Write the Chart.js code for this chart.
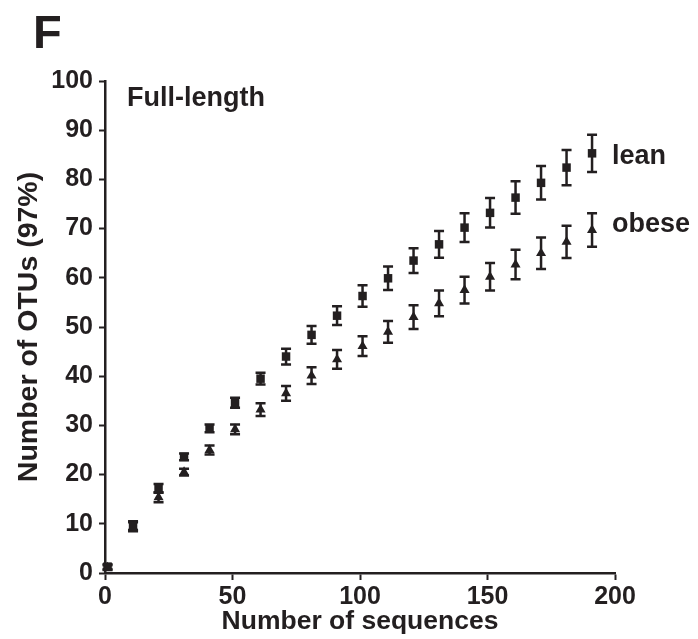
<!DOCTYPE html>
<html>
<head>
<meta charset="utf-8">
<script src="https://cdn.jsdelivr.net/npm/chart.js@4.4.0/dist/chart.umd.min.js"></script>
<style>
  body { margin: 0; background: #fff; }
  canvas { display: block; }
</style>
</head>
<body>
<canvas id="myChart" width="698" height="639"></canvas>
<script>
let ink = '#231f20'
let fontFamily = '"Liberation Sans", Arial, sans-serif'

// number of sequences sampled
const sequences = [1, 11, 21, 31, 41, 51, 61, 71, 81, 91, 101, 111, 121, 131, 141, 151, 161, 171, 181, 191]

// OTUs (97%) - lean
const lean = [1.3, 9.6, 17.2, 23.6, 29.4, 34.6, 39.5, 44.0, 48.4, 52.3, 56.3, 59.9, 63.5, 66.8, 70.2, 73.2, 76.3, 79.3, 82.4, 85.3]
const leanErr = [0.5, 0.9, 0.9, 0.7, 0.8, 1.0, 1.2, 1.6, 1.8, 1.9, 2.2, 2.4, 2.5, 2.7, 2.9, 3.0, 3.3, 3.4, 3.6, 3.8]

// OTUs (97%) - obese
const obese = [1.1, 9.4, 15.4, 20.5, 25.0, 29.2, 33.2, 36.5, 40.1, 43.4, 46.1, 49.0, 52.0, 54.8, 57.5, 60.2, 62.7, 65.0, 67.3, 69.7]
const obeseErr = [0.5, 0.9, 1.0, 0.7, 0.9, 1.0, 1.3, 1.5, 1.7, 1.9, 2.0, 2.2, 2.4, 2.6, 2.7, 2.8, 3.0, 3.2, 3.3, 3.4]

const xTicks = [0, 50, 100, 150, 200]
const yTicks = [0, 10, 20, 30, 40, 50, 60, 70, 80, 90, 100]

const errors = [leanErr, obeseErr]

// vertical error bars with caps, drawn under the markers
const errorBars = {
    id: 'errorBars',
    beforeDatasetsDraw(chart) {
        const ctx = chart.ctx
        const xs = chart.scales.x
        const ys = chart.scales.y
        ctx.save()
        ctx.strokeStyle = ink
        ctx.lineWidth = 2.5
        chart.data.datasets.forEach((ds, d) => {
            ds.data.forEach((p, i) => {
                const e = errors[d][i]
                const px = xs.getPixelForValue(p.x)
                const top = ys.getPixelForValue(p.y + e)
                const bot = ys.getPixelForValue(p.y - e)
                ctx.beginPath()
                ctx.moveTo(px, top)
                ctx.lineTo(px, bot)
                ctx.moveTo(px - 5, top)
                ctx.lineTo(px + 5, top)
                ctx.moveTo(px - 5, bot)
                ctx.lineTo(px + 5, bot)
                ctx.stroke()
            })
        })
        ctx.restore()
    }
}

// panel letter, inset title and series names
const labelsPlugin = {
    id: 'labelsPlugin',
    afterDraw(chart) {
        const ctx = chart.ctx
        ctx.save()
        ctx.fillStyle = ink
        ctx.textBaseline = 'alphabetic'
        ctx.textAlign = 'left'
        ctx.font = 'bold 47px ' + fontFamily
        ctx.fillText('F', 33, 48)
        ctx.font = 'bold 27px ' + fontFamily
        ctx.fillText('Full-length', 127, 106)
        ctx.fillText('lean', 612, 164)
        ctx.fillText('obese', 612, 232)
        ctx.restore()
    }
}

const data = {
    datasets: [
        {
            label: 'lean',
            data: sequences.map((x, i) => ({ x: x, y: lean[i] })),
            pointStyle: 'rect',
            pointRadius: 6,
            backgroundColor: ink,
            borderColor: ink,
            borderWidth: 0,
            showLine: false,
            clip: false
        },
        {
            label: 'obese',
            data: sequences.map((x, i) => ({ x: x, y: obese[i] })),
            pointStyle: 'triangle',
            pointRadius: 5.8,
            backgroundColor: ink,
            borderColor: ink,
            borderWidth: 0,
            showLine: false,
            clip: false
        }
    ]
}

const tickFont = { family: fontFamily, size: 25, weight: 'bold' }

const config = {
    type: 'scatter',
    data: data,
    options: {
        responsive: false,
        animation: false,
        events: [],
        layout: {
            padding: { left: 0, right: 83, top: 81, bottom: 0 }
        },
        plugins: {
            legend: { display: false },
            tooltip: { enabled: false }
        },
        scales: {
            x: {
                type: 'linear',
                min: 0,
                max: 200,
                afterBuildTicks: (scale) => { scale.ticks = xTicks.map(v => ({ value: v })) },
                afterFit: (scale) => { scale.height = 66 },
                grid: { drawOnChartArea: false, drawTicks: true, tickLength: 7, tickWidth: 2, tickColor: ink },
                border: { display: true, color: ink, width: 2.5 },
                ticks: { color: ink, font: tickFont, padding: 2, maxRotation: 0 },
                title: { display: true, text: 'Number of sequences', color: ink, font: { family: fontFamily, size: 26.5, weight: 'bold' }, padding: { top: 0, bottom: 1 } }
            },
            y: {
                type: 'linear',
                min: 0,
                max: 100,
                afterBuildTicks: (scale) => { scale.ticks = yTicks.map(v => ({ value: v })) },
                afterFit: (scale) => { scale.width = 105 },
                grid: { drawOnChartArea: false, drawTicks: true, tickLength: 6, tickWidth: 2, tickColor: ink },
                border: { display: true, color: ink, width: 2.5 },
                ticks: { color: ink, font: tickFont, padding: 6 },
                title: { display: true, text: 'Number of OTUs (97%)', color: ink, font: { family: fontFamily, size: 28.5, weight: 'bold' }, padding: { top: 12, bottom: 0 } }
            }
        }
    },
    plugins: [errorBars, labelsPlugin]
}

const myChart = new Chart(document.getElementById('myChart'), config)
</script>
</body>
</html>
